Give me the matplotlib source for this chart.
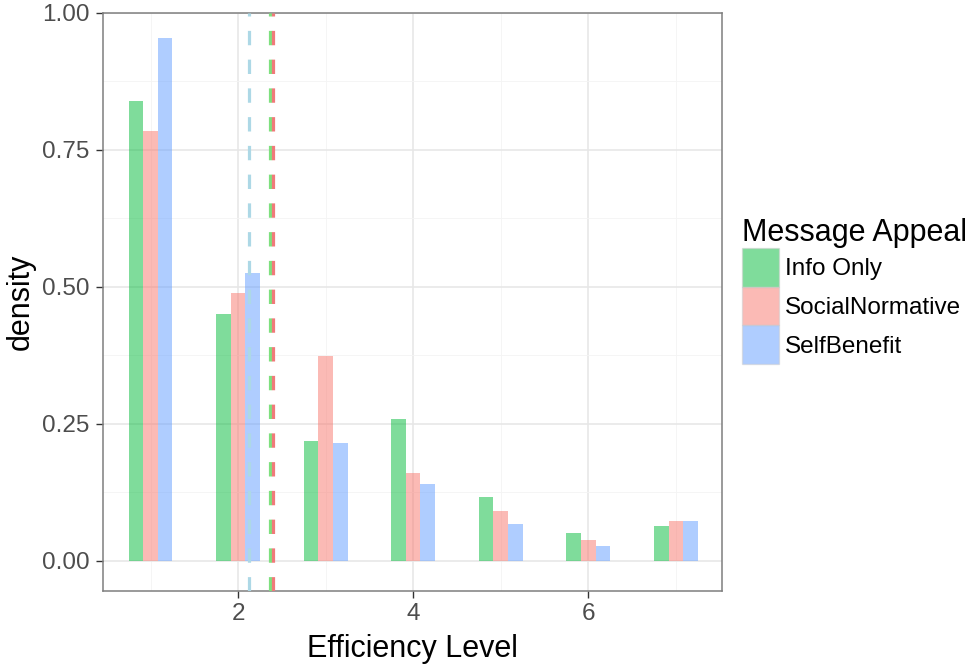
import numpy as np
import matplotlib
matplotlib.use("Agg")
import matplotlib.pyplot as plt
import matplotlib.ticker as ticker
from matplotlib.patches import Patch

plt.rcParams["font.family"] = ["Liberation Sans", "DejaVu Sans"]

# efficiency levels and density per message appeal
levels = np.array([1, 2, 3, 4, 5, 6, 7])
groups = ["Info Only", "SocialNormative", "SelfBenefit"]
info_only = [0.839, 0.451, 0.219, 0.259, 0.117, 0.051, 0.064]
social_normative = [0.785, 0.489, 0.374, 0.161, 0.091, 0.038, 0.073]
self_benefit = [0.954, 0.526, 0.215, 0.141, 0.068, 0.027, 0.073]
# group means (dashed lines)
means = [2.360, 2.394, 2.122]

fill_colors = ["#00BA38", "#F8766D", "#619CFF"]
line_colors = ["#7EE07E", "#F07A7A", "#ADD8E6"]


def main() -> None:
    fig = plt.figure(figsize=(9.72, 6.64), dpi=100)
    ax = fig.add_axes([0.106, 0.110, 0.637, 0.8705])

    width = 1 / 6
    series = [info_only, social_normative, self_benefit]
    for k, (vals, col) in enumerate(zip(series, fill_colors)):
        ax.bar(levels + (k - 1) * width, vals, width=width, color=col,
               alpha=0.5, linewidth=0, zorder=3)

    for m, col in sorted(zip(means, line_colors), key=lambda p: p[0]):
        ax.axvline(m, color=col, linestyle=(0, (4.5, 4.5)), linewidth=2.3,
                   zorder=4)

    ax.set_xlim(0.457, 7.53)
    ax.set_ylim(-0.055, 1.0)
    ax.xaxis.set_major_locator(ticker.FixedLocator([2, 4, 6]))
    ax.xaxis.set_minor_locator(ticker.FixedLocator([1, 3, 5, 7]))
    ax.yaxis.set_major_locator(ticker.FixedLocator([0, 0.25, 0.5, 0.75, 1.0]))
    ax.yaxis.set_minor_locator(ticker.FixedLocator([0.125, 0.375, 0.625, 0.875]))
    ax.yaxis.set_major_formatter(ticker.FormatStrFormatter("%.2f"))

    ax.grid(True, which="major", color="#E6E6E6", linewidth=1.1, zorder=0)
    ax.grid(True, which="minor", color="#F4F4F4", linewidth=0.6, zorder=0)
    ax.set_axisbelow(True)
    ax.tick_params(which="major", length=5, width=1, color="#333333",
                   labelsize=17.5, labelcolor="#4D4D4D")
    ax.tick_params(axis="x", pad=4)
    ax.tick_params(axis="y", pad=5)
    ax.tick_params(which="minor", length=0)
    for s in ax.spines.values():
        s.set_color("#7F7F7F")
        s.set_linewidth(1.1)

    ax.set_xlabel("Efficiency Level", fontsize=22, labelpad=6)
    ax.set_ylabel("density", fontsize=22, labelpad=4)

    handles = [Patch(facecolor=c, alpha=0.5, edgecolor="#CCCCCC", linewidth=1)
               for c in fill_colors]
    leg = fig.legend(handles, groups, title="Message Appeal",
                     loc="upper left", bbox_to_anchor=(0.763, 0.672),
                     frameon=False, fontsize=17.5, title_fontsize=22,
                     handlelength=1.55, handleheight=2.08, labelspacing=0.0,
                     handletextpad=0.25, borderaxespad=0, borderpad=0)
    leg._legend_box.align = "left"

    fig.savefig("out.png", dpi=100)


if __name__ == "__main__":
    main()
